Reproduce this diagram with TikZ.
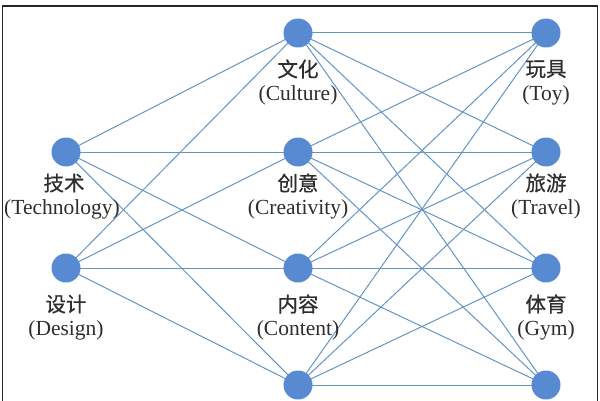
\documentclass[tikz,border=0pt]{standalone}
\usepackage{fontspec}
\setmainfont{Liberation Serif}
\newfontfamily\cjk{Noto Sans CJK SC}[FakeBold=0.6]
\definecolor{nodeblue}{RGB}{88,138,210}
\definecolor{edgeblue}{RGB}{100,150,196}
\pgfdeclarelayer{bg}
\pgfsetlayers{bg,main}
\begin{document}
\begin{tikzpicture}[x=1pt,y=1pt,
  dot/.style={circle,fill=nodeblue,draw=none,minimum size=29pt,inner sep=0pt},
  link/.style={draw=edgeblue,line width=1pt},
  zh/.style={font=\cjk\fontsize{20.5}{20.5}\selectfont,text=black!82,inner sep=0pt},
  en/.style={font=\fontsize{21.5}{21.5}\selectfont,text=black!82,inner sep=0pt}]
\useasboundingbox (0,0) rectangle (600,400);
% nodes
\node[dot] (L1) at (66,248) {};
\node[dot] (L2) at (66,132) {};
\node[dot] (M1) at (298,367) {};
\node[dot] (M2) at (298,248) {};
\node[dot] (M3) at (298,132) {};
\node[dot] (M4) at (298,15) {};
\node[dot] (R1) at (546,367) {};
\node[dot] (R2) at (546,248) {};
\node[dot] (R3) at (546,132) {};
\node[dot] (R4) at (546,15) {};
% background, frame and edges (behind nodes)
\begin{pgfonlayer}{bg}
\fill[white] (0,0) rectangle (600,400);
\draw[black!85,line width=1.2pt] (2.5,-5) -- (2.5,394) -- (597.5,394) -- (597.5,-5);
\foreach \a in {L1,L2}{\foreach \b in {M1,M2,M3,M4}{\draw[link] (\a.center) -- (\b.center);}}
\foreach \a in {M1,M2,M3,M4}{\foreach \b in {R1,R2,R3,R4}{\draw[link] (\a.center) -- (\b.center);}}
\end{pgfonlayer}
% labels
\node[zh] (tL1) at (64,217) {技术};
\node[en] (eL1) at (62,191) {(Technology)};
\node[zh] (tL2) at (66,96) {设计};
\node[en] (eL2) at (66,70) {(Design)};
\node[zh] (tM1) at (298,331) {文化};
\node[en] (eM1) at (298,305) {(Culture)};
\node[zh] (tM2) at (298,217) {创意};
\node[en] (eM2) at (298,191) {(Creativity)};
\node[zh] (tM3) at (298,96) {内容};
\node[en] (eM3) at (298,70) {(Content)};
\node[zh] (tR1) at (546,331) {玩具};
\node[en] (eR1) at (546,305) {(Toy)};
\node[zh] (tR2) at (546,217) {旅游};
\node[en] (eR2) at (546,191) {(Travel)};
\node[zh] (tR3) at (546,96) {体育};
\node[en] (eR3) at (546,70) {(Gym)};
\end{tikzpicture}
\end{document}
